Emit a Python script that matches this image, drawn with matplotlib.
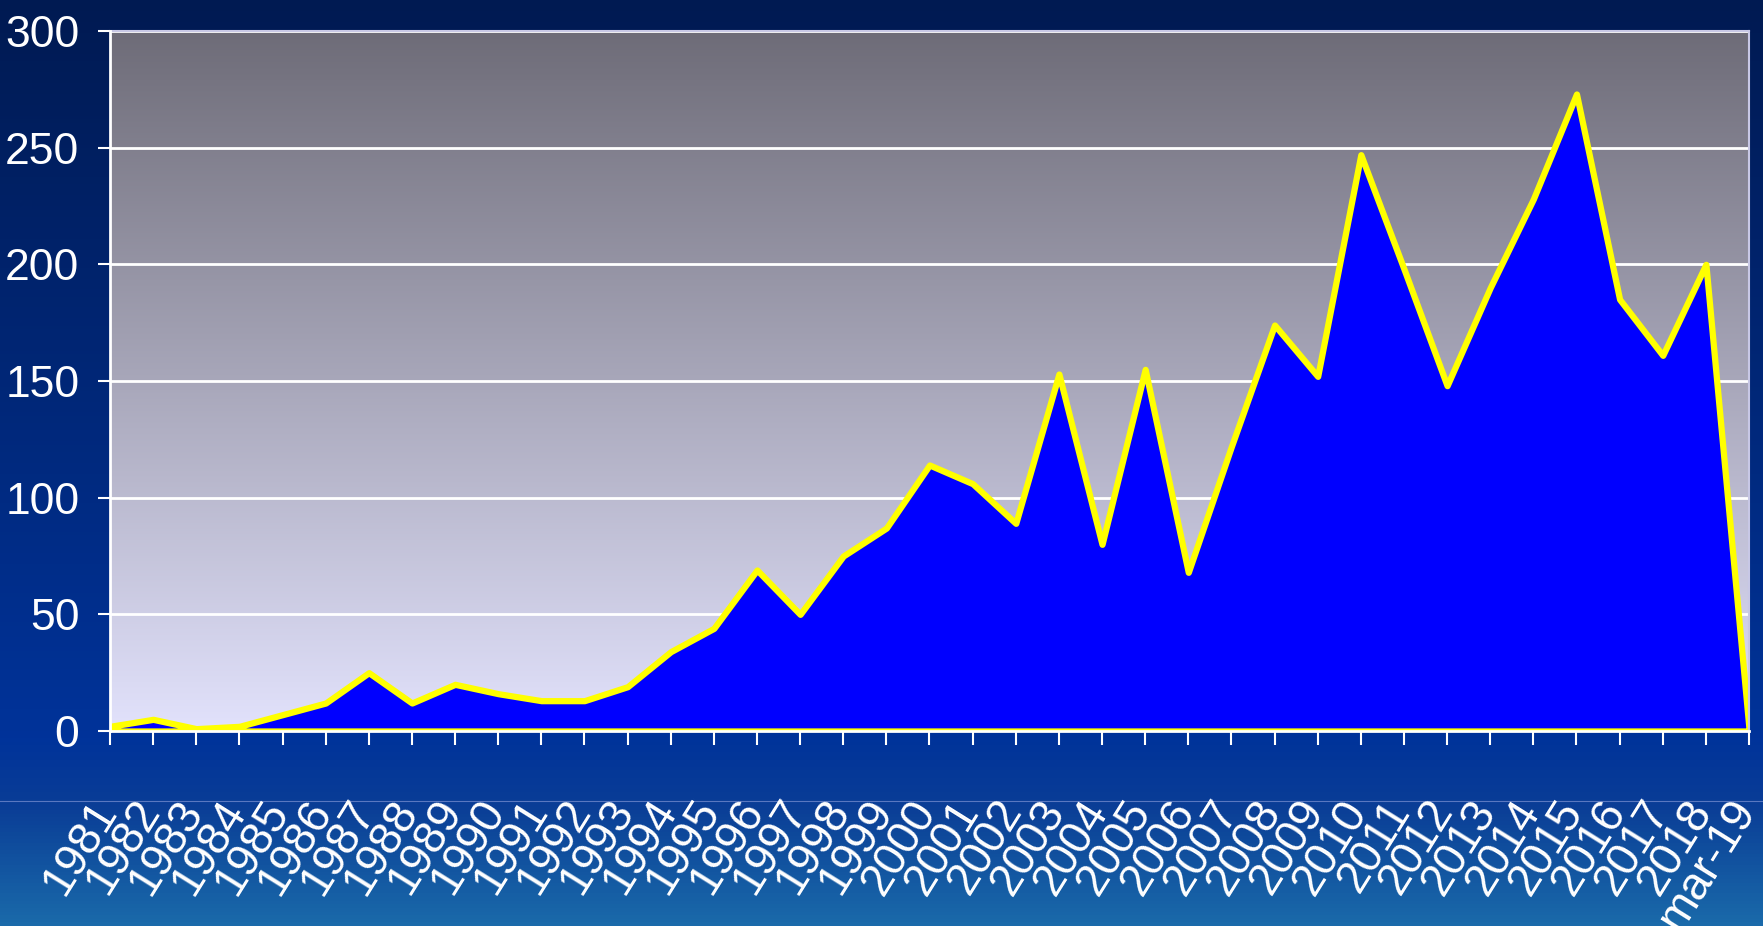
import numpy as np
import matplotlib.pyplot as plt
import matplotlib.transforms as mtransforms
from matplotlib.colors import LinearSegmentedColormap
from matplotlib.lines import Line2D

# dados
anos = ["1981", "1982", "1983", "1984", "1985", "1986", "1987", "1988", "1989", "1990",
        "1991", "1992", "1993", "1994", "1995", "1996", "1997", "1998", "1999", "2000",
        "2001", "2002", "2003", "2004", "2005", "2006", "2007", "2008", "2009", "2010",
        "2011", "2012", "2013", "2014", "2015", "2016", "2017", "2018", "mar-19"]
valores = [2, 5, 1, 2, 7, 12, 25, 12, 20, 16,
           13, 13, 19, 34, 44, 69, 50, 75, 87, 114,
           106, 89, 153, 80, 155, 68, 122, 174, 152, 247,
           198, 148, 190, 228, 273, 185, 161, 200, 1]
yticks = [0, 50, 100, 150, 200, 250, 300]

fonte = ['Liberation Sans', 'DejaVu Sans']

fig = plt.figure(figsize=(17.63, 9.26), dpi=100)

# fundo do slide (gradiente azul)
bg = fig.add_axes([0, 0, 1, 1], zorder=-10)
bg_cmap = LinearSegmentedColormap.from_list(
    "bg", [(0, "#001a52"), (0.80, "#00339a"), (0.87, "#0a3d96"), (1, "#1a6aaa")])
bg.imshow(np.linspace(0, 1, 256).reshape(-1, 1), aspect="auto", cmap=bg_cmap,
          extent=[0, 1, 0, 1], origin="upper")
bg.set_axis_off()
fig.add_artist(Line2D([0, 1], [1 - 801 / 926, 1 - 801 / 926], transform=fig.transFigure,
                      color="#5a78c0", lw=0.8, zorder=-5))

ax = fig.add_axes([110 / 1763, 1 - 731 / 926, (1749 - 110) / 1763, (731 - 31) / 926])
x = np.arange(len(anos))

# gradiente da área do gráfico (escuro em cima, claro embaixo)
plot_cmap = LinearSegmentedColormap.from_list("plot", ["#6e6c78", "#e2e2fc"])
ax.imshow(np.linspace(1, 0, 256).reshape(-1, 1), aspect="auto", cmap=plot_cmap,
          extent=[0, len(anos) - 1, 0, 300], origin="lower", zorder=0)

for t in yticks[1:]:
    ax.axhline(t, color="white", lw=2, zorder=1)

ax.fill_between(x, valores, 0, facecolor="#0000ff", edgecolor="#ffff00", lw=4.5,
                joinstyle="round", zorder=2)

ax.set_xlim(0, len(anos) - 1)
ax.set_ylim(0, 300)
ax.set_yticks(yticks)
ax.set_yticklabels([str(t) for t in yticks], fontfamily=fonte, fontsize=32)
ax.set_xticks(x)
ax.set_xticklabels(anos, fontfamily=fonte, fontsize=33, rotation=58,
                   rotation_mode="anchor", ha="right", va="baseline")

for s in ["left", "bottom"]:
    ax.spines[s].set_color("white")
    ax.spines[s].set_linewidth(2)
    ax.spines[s].set_zorder(3)
for s in ["top", "right"]:
    ax.spines[s].set_color("#c8c8e6")
    ax.spines[s].set_linewidth(1.5)

ax.tick_params(axis="y", colors="white", length=9, width=1.5, pad=13)
ax.tick_params(axis="x", colors="white", length=10, width=1.5, pad=47)

offset = mtransforms.ScaledTranslation(7 / 100, 0, fig.dpi_scale_trans)
for lab in ax.get_xticklabels():
    lab.set_transform(lab.get_transform() + offset)

fig.savefig("out.png", dpi=100)
